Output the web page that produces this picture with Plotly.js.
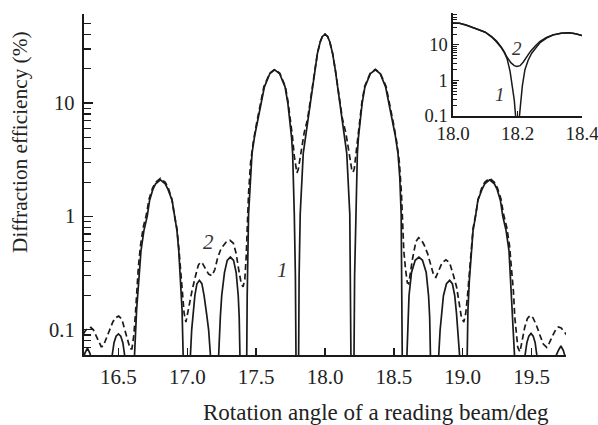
<!DOCTYPE html>
<html><head><meta charset="utf-8">
<script src="https://cdn.plot.ly/plotly-3.0.1.min.js"></script>
<style>
html,body{margin:0;padding:0;background:#fff}
#chart{width:598px;height:425px}
</style>
</head><body><div id="chart"></div>
<script>
// Curve 1 (solid) — main plot
const angle1 = [16.245,16.256,16.275,16.293,16.305,16.33,16.38,16.43,16.455,16.468,16.483,16.50,16.517,16.532,16.545,16.57,16.595,16.607,
16.617,16.632,16.649,16.664,16.685,16.709,16.726,16.75,16.77,16.805,16.84,16.86,16.89,16.907,16.925,16.938,16.952,16.962,16.97,16.985,17.0,
17.012,17.023,17.032,17.042,17.055,17.07,17.088,17.106,17.122,17.14,17.155,17.168,17.18,17.2,
17.215,17.228,17.24,17.25,17.27,17.29,17.313,17.336,17.355,17.37,17.377,17.384,17.395,17.41,
17.425,17.435,17.445,17.457,17.47,17.49,17.513,17.535,17.56,17.60,17.634,17.67,17.71,17.73,17.746,17.757,17.765,17.772,17.777,17.785,17.80,
17.812,17.82,17.842,17.876,17.909,17.925,17.945,17.965,17.98,18.0,18.02,18.035,18.055,18.075,18.091,18.124,18.158,18.18,18.188,18.20,
18.215,18.223,18.228,18.235,18.243,18.254,18.27,18.29,18.33,18.366,18.40,18.44,18.465,18.487,18.51,18.53,18.543,18.553,18.563,18.572,
18.585,18.595,18.603,18.61,18.628,18.655,18.682,18.708,18.735,18.752,18.76,18.767,18.78,18.795,
18.812,18.826,18.836,18.845,18.86,18.882,18.905,18.925,18.942,18.955,18.965,18.977,18.99,19.005,
19.018,19.03,19.038,19.048,19.062,19.075,19.093,19.11,19.14,19.16,19.195,19.23,19.25,19.274,19.291,19.315,19.336,19.348,19.362,19.376,19.39,19.41,
19.43,19.453,19.466,19.48,19.496,19.512,19.526,19.538,19.56,19.6,19.65,19.68,19.695,19.713,19.73,19.745,19.76];
const eff1 = [0.055,0.062,0.069,0.062,0.055,0.02,0.001,0.02,0.06,0.077,0.088,0.092,0.088,0.077,0.06,0.02,0.001,0.01,
0.06,0.15,0.27,0.5,0.75,1.0,1.38,1.73,1.94,2.1,1.94,1.73,1.38,1.0,0.75,0.5,0.27,0.15,0.06,0.005,0.001,
0.005,0.06,0.1,0.139,0.2,0.255,0.273,0.255,0.2,0.139,0.1,0.06,0.005,0.001,
0.005,0.06,0.13,0.2,0.32,0.41,0.438,0.41,0.32,0.2,0.13,0.06,0.005,0.001,
0.005,0.2,1.05,2.2,3.6,5.2,7.1,10,13.9,18.2,19.6,18.2,13.9,10,7.1,5.0,3.6,2.0,1.05,0.3,0.001,
0.3,1.05,3.6,7.1,13.9,19.5,27.4,34.5,38.5,40.5,38.5,34.5,27.4,19.5,13.9,7.1,3.6,1.05,0.3,0.001,
0.3,1.05,2.0,3.6,5.0,7.1,10,13.9,18.2,19.6,18.2,13.9,10,7.1,5.2,3.6,2.2,1.05,0.2,0.001,
0.005,0.06,0.13,0.2,0.32,0.41,0.438,0.41,0.32,0.2,0.13,0.06,0.005,0.001,
0.005,0.06,0.1,0.139,0.2,0.255,0.273,0.255,0.2,0.139,0.1,0.06,0.005,0.001,
0.005,0.06,0.15,0.27,0.5,0.75,1.0,1.38,1.73,1.94,2.1,1.94,1.73,1.38,1.0,0.75,0.5,0.27,0.15,0.06,0.005,0.001,
0.02,0.06,0.077,0.088,0.093,0.088,0.077,0.06,0.02,0.001,0.02,0.06,0.066,0.072,0.066,0.058,0.05];

// Curve 2 (dashed) — main plot
const angle2 = [16.245,16.262,16.28,16.30,16.318,16.335,16.355,16.375,16.39,16.41,16.435,16.46,16.48,16.502,16.525,16.545,16.565,16.585,16.598,
16.612,16.622,16.632,16.645,16.66,16.68,16.704,16.722,16.748,16.77,16.805,16.84,16.862,16.888,16.905,16.925,16.94,16.952,16.965,16.977,16.99,
17.01,17.035,17.06,17.08,17.095,17.11,17.13,17.155,17.18,17.20,17.22,17.245,17.28,17.31,17.335,17.355,17.375,17.392,17.405,17.418,17.428,17.436,
17.445,17.46,17.48,17.505,17.53,17.556,17.598,17.634,17.672,17.712,17.732,17.75,17.764,17.777,17.787,17.796,17.806,17.816,17.828,17.848,17.874,
17.907,17.925,17.945,17.965,17.98,18.0,18.02,18.035,18.055,18.075,18.093,18.126,18.152,18.172,18.184,18.194,18.204,18.213,18.223,18.236,18.25,
18.268,18.288,18.328,18.366,18.402,18.444,18.47,18.495,18.52,18.54,18.555,18.564,18.572,18.585,18.598,18.608,18.62,18.635,18.66,18.68,18.70,
18.72,18.745,18.77,18.79,18.805,18.825,18.85,18.878,18.905,18.93,18.955,18.975,18.99,19.008,19.022,19.035,19.048,19.06,19.075,19.095,19.112,
19.138,19.16,19.195,19.23,19.252,19.278,19.296,19.32,19.34,19.355,19.368,19.378,19.388,19.40,19.416,19.43,19.45,19.47,19.49,19.51,19.535,
19.56,19.585,19.61,19.63,19.655,19.675,19.695,19.715,19.735,19.755];
const eff2 = [0.092,0.099,0.104,0.105,0.1,0.09,0.078,0.071,0.072,0.082,0.1,0.118,0.128,0.132,0.124,0.1,0.08,0.068,0.068,
0.09,0.13,0.22,0.36,0.55,0.8,1.05,1.42,1.78,2.0,2.17,2.0,1.78,1.42,1.05,0.78,0.5,0.33,0.2,0.14,0.117,
0.16,0.223,0.3,0.37,0.395,0.385,0.35,0.31,0.30,0.34,0.43,0.52,0.59,0.615,0.58,0.47,0.33,0.255,0.24,0.28,0.45,0.9,
1.6,3.0,4.6,6.8,9.8,13.9,18.3,19.8,18.3,14.0,10.2,7.1,5.0,3.4,2.65,2.42,2.6,3.1,4.0,5.4,7.3,
14.0,19.6,27.5,34.5,38.5,40.5,38.5,34.5,27.5,19.6,14.0,7.3,5.4,4.0,3.1,2.6,2.45,2.65,3.4,5.0,7.1,
10.2,14.0,18.3,19.8,18.3,13.9,9.8,6.8,4.6,3.0,1.6,0.9,0.5,0.34,0.26,0.255,0.32,0.42,0.6,0.65,0.62,
0.56,0.47,0.36,0.3,0.29,0.33,0.39,0.415,0.39,0.31,0.24,0.17,0.13,0.117,0.14,0.2,0.33,0.5,0.78,1.05,1.42,
1.78,2.0,2.17,2.0,1.78,1.42,1.05,0.8,0.55,0.36,0.22,0.13,0.09,0.07,0.064,0.08,0.105,0.126,0.134,0.128,0.11,
0.09,0.075,0.07,0.077,0.09,0.1,0.106,0.104,0.097,0.09];

// Inset curves
const insetAngle1 = [18.0,18.02,18.04,18.06,18.08,18.1,18.12,18.135,18.15,18.16,18.168,18.177,18.185,18.19,18.195,18.2,18.205,18.21,18.215,18.223,18.233,18.244,18.257,18.27,18.29,18.31,18.335,18.36,18.38,18.4];
const insetEff1 = [41,40,36,31.5,26.5,22.5,16.5,12.0,8.2,5.8,4.0,1.8,0.6,0.28,0.08,0.001,0.08,0.3,0.7,2.0,3.7,5.8,8.5,11.5,15.5,18.8,21,21.8,20.5,18.3];
const insetAngle2 = [18.0,18.02,18.04,18.06,18.08,18.1,18.12,18.135,18.15,18.16,18.166,18.18,18.19,18.198,18.208,18.218,18.228,18.24,18.255,18.27,18.29,18.31,18.335,18.36,18.38,18.4];
const insetEff2 = [41,40,36,31.5,26.5,22.5,17,12.8,8.6,6.1,4.7,3.1,2.6,2.45,2.6,3.3,4.6,6.5,9.3,12.4,16,19,21,21.8,20.5,18.3];

const xTicks = [16.5,17.0,17.5,18.0,18.5,19.0,19.5];
const xTickText = ['16.5','17.0','17.5','18.0','18.5','19.0','19.5'];
const yTicks = [0.1,1,10];
const yTickText = ['0.1','1','10'];
const yMinor = [0.06,0.07,0.08,0.09,0.2,0.3,0.4,0.5,0.6,0.7,0.8,0.9,2,3,4,5,6,7,8,9,20,30,40,50,60];
const insetXTicks = [18.0,18.2,18.4];
const insetXText = ['18.0','18.2','18.4'];
const insetYMinor = [0.2,0.3,0.4,0.5,0.6,0.7,0.8,0.9,2,3,4,5,6,7,8,9,20,30,40,50,60,70];

const lineInk = '#1a1a1a';
const textInk = '#222222';
const serif = 'Liberation Serif';

const traces = [
  {x: angle2, y: eff2, mode:'lines', line:{color:lineInk, width:1.7, dash:'6px,3.5px'}, xaxis:'x', yaxis:'y', hoverinfo:'skip'},
  {x: angle1, y: eff1, mode:'lines', line:{color:lineInk, width:1.7}, xaxis:'x', yaxis:'y', hoverinfo:'skip'},
  {x: insetAngle2, y: insetEff2, mode:'lines', line:{color:lineInk, width:1.5}, xaxis:'x2', yaxis:'y2', hoverinfo:'skip'},
  {x: insetAngle1, y: insetEff1, mode:'lines', line:{color:lineInk, width:1.5}, xaxis:'x2', yaxis:'y2', hoverinfo:'skip'}
];

const plotW = 498, plotH = 342;

// main y tick labels placed as text at the tick values
const yLabelAnns = yTicks.map((v, i) => ({
  text: yTickText[i], xref:'paper', yref:'y', x:(77-84)/plotW, y:Math.log10(v),
  xanchor:'right', yanchor:'middle', showarrow:false, font:{family:serif, size:20.5, color:textInk}
}));

const layout = {
  width:598, height:425,
  margin:{l:84, r:16, t:13, b:70, pad:0},
  paper_bgcolor:'#ffffff', plot_bgcolor:'rgba(0,0,0,0)',
  showlegend:false,
  font:{family:serif, size:20, color:textInk},
  xaxis:{domain:[0,(566-84)/plotW], range:[16.25,19.75], anchor:'y',
    tickmode:'array', tickvals:xTicks, ticktext:xTickText,
    ticks:'inside', ticklen:7, tickwidth:1.3, tickcolor:lineInk,
    showline:true, linecolor:lineInk, linewidth:1.6, showgrid:false, zeroline:false,
    ticklabelstandoff:2, tickfont:{family:serif, size:21, color:textInk}},
  yaxis:{domain:[0,1-1/plotH], type:'log', range:[-1.222,1.785], anchor:'x',
    tickmode:'array', tickvals:yTicks, ticktext:yTickText, showticklabels:false,
    ticks:'inside', ticklen:9, tickwidth:1.3, tickcolor:lineInk,
    minor:{tickmode:'array', tickvals:yMinor, ticks:'inside', ticklen:7, tickwidth:1.2, tickcolor:lineInk},
    showline:true, linecolor:lineInk, linewidth:1.6, showgrid:false, zeroline:false},
  xaxis2:{domain:[(453-84)/plotW,1], range:[18.0,18.4], anchor:'y2',
    tickmode:'array', tickvals:insetXTicks, ticktext:insetXText, ticklabeloverflow:'allow',
    ticks:'inside', ticklen:5, tickwidth:1.2, tickcolor:lineInk,
    showline:true, linecolor:lineInk, linewidth:1.6, showgrid:false, zeroline:false,
    ticklabelstandoff:0, tickfont:{family:serif, size:19, color:textInk}},
  yaxis2:{domain:[(355-116)/plotH,1], type:'log', range:[-1,1.893], anchor:'x2',
    tickmode:'array', tickvals:yTicks, ticktext:yTickText,
    ticks:'inside', ticklen:6, tickwidth:1.2, tickcolor:lineInk,
    minor:{tickmode:'array', tickvals:insetYMinor, ticks:'inside', ticklen:4, tickwidth:1, tickcolor:lineInk},
    showline:true, linecolor:lineInk, linewidth:1.6, showgrid:false, zeroline:false,
    ticklabelstandoff:0, tickfont:{family:serif, size:18.5, color:textInk}},
  annotations:[
    {text:'Diffraction efficiency (%)', xref:'paper', yref:'paper', x:(20-84)/plotW, y:(355-142)/plotH,
     xanchor:'center', yanchor:'middle', textangle:-90, showarrow:false, font:{family:serif, size:21.3, color:textInk}},
    {text:'Rotation angle of a reading beam/deg', xref:'paper', yref:'paper', x:(376-84)/plotW, y:(355-412)/plotH,
     xanchor:'center', yanchor:'middle', showarrow:false, font:{family:serif, size:23, color:textInk}},
    {text:'<i>2</i>', xref:'x', yref:'y', x:17.156, y:-0.229, showarrow:false, font:{family:serif, size:21, color:'#333'}},
    {text:'<i>1</i>', xref:'x', yref:'y', x:17.692, y:-0.476, showarrow:false, font:{family:serif, size:21, color:'#333'}},
    {text:'<i>2</i>', xref:'x2', yref:'y2', x:18.198, y:0.887, showarrow:false, font:{family:serif, size:19, color:'#333'}},
    {text:'<i>1</i>', xref:'x2', yref:'y2', x:18.146, y:-0.408, showarrow:false, font:{family:serif, size:19, color:'#333'}}
  ].concat(yLabelAnns)
};
Plotly.newPlot('chart', traces, layout, {staticPlot:true, displayModeBar:false});
</script></body></html>
